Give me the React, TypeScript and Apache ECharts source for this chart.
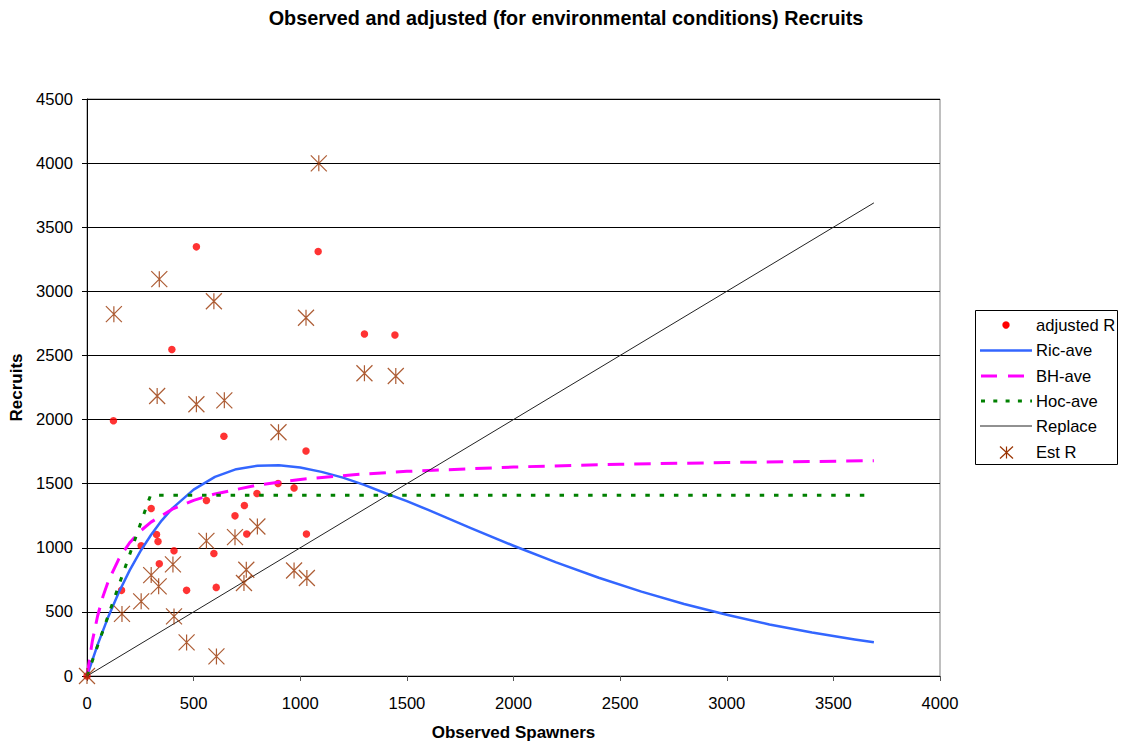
import React, { useEffect, useRef } from "react";
import * as echarts from "echarts";

const FONT = "'Liberation Sans', Arial, sans-serif";

// Observed spawners / adjusted recruits
const adjustedS = [0, 124, 642, 1027, 896, 971, 797, 560, 301, 738, 694, 326, 333, 749, 1029, 254, 408, 595, 339, 162, 467, 606, 513, 1084, 398, 1301, 1444];
const adjustedR = [0, 1991, 1870, 1755, 1501, 1467, 1423, 1369, 1306, 1330, 1249, 1104, 1049, 1107, 1107, 1016, 977, 956, 876, 668, 668, 691, 3347, 3311, 2547, 2667, 2659];

// Observed spawners / estimated recruits
const estS = [0, 339, 126, 595, 1027, 1301, 329, 513, 644, 898, 1087, 1448, 560, 694, 799, 301, 403, 336, 747, 736, 971, 1031, 254, 164, 408, 467, 607];
const estR = [0, 3095, 2822, 2923, 2794, 2361, 2184, 2119, 2150, 1901, 3998, 2340, 1054, 1083, 1166, 787, 870, 699, 829, 725, 823, 764, 582, 484, 465, 262, 153];

// Ricker average curve
const rickerS = [0, 50, 100, 150, 200, 250, 300, 350, 400, 500, 600, 700, 800, 900, 1000, 1100, 1200, 1300, 1400, 1500, 1600, 1800, 2000, 2200, 2400, 2600, 2800, 3000, 3200, 3400, 3600, 3690];
const rickerR = [0, 245, 463, 655, 824, 972, 1100, 1212, 1307, 1454, 1553, 1613, 1640, 1643, 1626, 1592, 1547, 1491, 1425, 1364, 1295, 1154, 1016, 886, 766, 658, 561, 478, 402, 339, 285, 263];

// Beverton-Holt average curve
const bhS = [0, 25, 50, 75, 100, 150, 200, 250, 300, 400, 500, 600, 800, 1000, 1250, 1500, 2000, 2500, 3000, 3690];
const bhR = [0, 272, 470, 621, 740, 916, 1039, 1130, 1200, 1301, 1370, 1420, 1489, 1533, 1570, 1596, 1630, 1651, 1665, 1679];

// Hockey stick average
const hocS = [0, 298, 3690];
const hocR = [0, 1410, 1410];

// Replacement line
const replS = [0, 3690];
const replR = [0, 3690];

const xTicks = [0, 500, 1000, 1500, 2000, 2500, 3000, 3500, 4000];
const yTicks = [0, 500, 1000, 1500, 2000, 2500, 3000, 3500, 4000, 4500];

const legendNames = ["adjusted R", "Ric-ave", "BH-ave", "Hoc-ave", "Replace", "Est R"];

const zip = (a: number[], b: number[]) => a.map((v, i) => [v, b[i]]);

const STAR = "path://M0 0L16 16M16 0L0 16M8 0L8 16";

export default function App() {
  const ref = useRef<HTMLDivElement>(null);
  useEffect(() => {
    if (!ref.current) return;
    const chart = echarts.init(ref.current, null, { renderer: "svg" });
    const rowY = [325, 350.5, 376, 401, 426, 452.5];
    const lx0 = 980;
    const lx1 = 1032;
    const tx = 1036;
    const legendGraphics: any[] = [
      {
        type: "rect",
        shape: { x: 975.5, y: 310.5, width: 142, height: 154 },
        style: { fill: "#fff", stroke: "#000", lineWidth: 1 },
        z: 10,
      },
      { type: "circle", shape: { cx: 1006, cy: rowY[0], r: 3.7 }, style: { fill: "#FF0000" }, z: 11 },
      { type: "line", shape: { x1: lx0, y1: rowY[1], x2: lx1, y2: rowY[1] }, style: { stroke: "#3366FF", lineWidth: 2.5 }, z: 11 },
      { type: "line", shape: { x1: lx0 + 1, y1: rowY[2], x2: lx1, y2: rowY[2] }, style: { stroke: "#FF00FF", lineWidth: 3, lineDash: [16, 11] }, z: 11 },
      { type: "line", shape: { x1: lx0 + 1, y1: rowY[3], x2: lx1, y2: rowY[3] }, style: { stroke: "#008000", lineWidth: 3, lineDash: [4, 8.3] }, z: 11 },
      { type: "line", shape: { x1: lx0, y1: rowY[4], x2: lx1, y2: rowY[4] }, style: { stroke: "#222", lineWidth: 1 }, z: 11 },
      { type: "line", shape: { x1: 1000, y1: rowY[5] - 6, x2: 1013, y2: rowY[5] + 6 }, style: { stroke: "#993300", lineWidth: 1.2 }, z: 11 },
      { type: "line", shape: { x1: 1013, y1: rowY[5] - 6, x2: 1000, y2: rowY[5] + 6 }, style: { stroke: "#993300", lineWidth: 1.2 }, z: 11 },
      { type: "line", shape: { x1: 1006.5, y1: rowY[5] - 6, x2: 1006.5, y2: rowY[5] + 6 }, style: { stroke: "#993300", lineWidth: 1.2 }, z: 11 },
    ];
    legendNames.forEach((n, i) => {
      legendGraphics.push({
        type: "text",
        x: tx,
        y: rowY[i],
        style: { text: n, fill: "#000", font: `16.6px ${FONT}`, verticalAlign: "middle", align: "left" },
        z: 11,
      });
    });

    chart.setOption({
      animation: false,
      backgroundColor: "#fff",
      textStyle: { fontFamily: FONT },
      title: {
        text: "Observed and adjusted (for environmental conditions) Recruits",
        left: 561,
        top: 3,
        textAlign: "center",
        textStyle: { fontSize: 19.8, fontWeight: "bold", color: "#000", fontFamily: FONT },
      },
      grid: {
        left: 87,
        right: 182,
        top: 99,
        bottom: 66,
        show: true,
        borderColor: "#808080",
        borderWidth: 1,
        backgroundColor: "transparent",
        containLabel: false,
        outerBoundsMode: "none",
      },
      xAxis: {
        type: "value",
        min: xTicks[0],
        max: xTicks[xTicks.length - 1],
        interval: 500,
        name: "Observed Spawners",
        nameLocation: "middle",
        nameGap: 48,
        nameTextStyle: { fontSize: 17, fontWeight: "bold", color: "#000", fontFamily: FONT },
        axisLine: { show: true, onZero: false, lineStyle: { color: "#000", width: 1 } },
        axisTick: { show: true, length: 5, inside: false, lineStyle: { color: "#555" } },
        axisLabel: { fontSize: 16.6, color: "#000", margin: 19, fontFamily: FONT, formatter: (v: number) => String(v) },
        splitLine: { show: false },
      },
      yAxis: {
        type: "value",
        min: yTicks[0],
        max: yTicks[yTicks.length - 1],
        interval: 500,
        name: "Recruits",
        nameLocation: "middle",
        nameGap: 62,
        nameTextStyle: { fontSize: 17, fontWeight: "bold", color: "#000", fontFamily: FONT },
        axisLine: { show: true, onZero: false, lineStyle: { color: "#000", width: 1 } },
        axisTick: { show: true, length: 5, inside: false, lineStyle: { color: "#000" } },
        axisLabel: { fontSize: 16.6, color: "#000", margin: 14, fontFamily: FONT, formatter: (v: number) => String(v) },
        splitLine: { show: true, lineStyle: { color: "#000", width: 1 } },
      },
      series: [
        {
          name: "adjusted R",
          type: "scatter",
          data: zip(adjustedS, adjustedR),
          symbol: "circle",
          symbolSize: 7.5,
          itemStyle: { color: "#FF0000" },
          clip: false,
          z: 3,
        },
        {
          name: "Ric-ave",
          type: "line",
          data: zip(rickerS, rickerR),
          smooth: false,
          showSymbol: false,
          symbol: "none",
          lineStyle: { color: "#3366FF", width: 2.5, join: "round" },
          z: 4,
        },
        {
          name: "BH-ave",
          type: "line",
          data: zip(bhS, bhR),
          smooth: false,
          showSymbol: false,
          symbol: "none",
          lineStyle: { color: "#FF00FF", width: 3, type: [16.5, 10] },
          z: 4,
        },
        {
          name: "Hoc-ave",
          type: "line",
          data: zip(hocS, hocR),
          showSymbol: false,
          symbol: "none",
          lineStyle: { color: "#008000", width: 3, type: [4.5, 9.8] },
          z: 4,
        },
        {
          name: "Replace",
          type: "line",
          data: zip(replS, replR),
          showSymbol: false,
          symbol: "none",
          lineStyle: { color: "#222", width: 1 },
          z: 4,
        },
        {
          name: "Est R",
          type: "scatter",
          data: zip(estS, estR),
          symbol: STAR,
          symbolSize: 16,
          itemStyle: { color: "#993300", borderColor: "#993300", borderWidth: 1.2 },
          clip: false,
          z: 5,
        },
      ],
      graphic: legendGraphics,
    });
    return () => chart.dispose();
  }, []);
  return (
    <div
      ref={ref}
      style={{ position: "fixed", left: 0, top: 0, width: 1122, height: 742, background: "#fff" }}
    />
  );
}
